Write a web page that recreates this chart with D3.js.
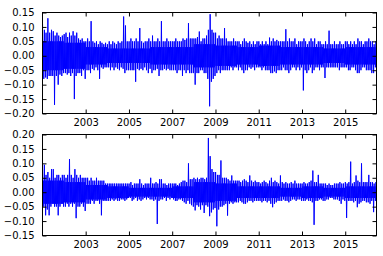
<!DOCTYPE html>
<html><head><meta charset="utf-8">
<script src="https://cdn.jsdelivr.net/npm/d3@7"></script>
<style>html,body{margin:0;padding:0;background:#fff;} svg{display:block;}</style>
</head><body><svg id="c" width="383" height="256"></svg>
<script>
// ---- data (monthly extreme daily returns, in percent, Jan 2001 .. Jun 2016) ----
const startYear = 2001;
const xTickYears = [2003, 2005, 2007, 2009, 2011, 2013, 2015];
const topTicks = [-0.20, -0.15, -0.10, -0.05, 0.00, 0.05, 0.10, 0.15];
const botTicks = [-0.15, -0.10, -0.05, 0.00, 0.05, 0.10, 0.15, 0.20];

const topHighPct = [
  11, 9, 8, 13, 8, 9, 8.5, 7, 8, 7, 6.5, 7,
  7.5, 8, 6.5, 8, 7, 8.5, 7, 8, 6, 5.5, 6, 5,
  5, 6, 5, 12, 5, 4.5, 5, 4, 5, 4.5, 4, 4.5,
  4, 5, 4, 5, 4.5, 4, 5, 4.5, 5, 13.6, 10.5, 5,
  5, 6, 5, 5, 6, 5, 9.6, 5, 4.5, 5, 5, 6,
  5, 7, 5, 5, 6, 5, 12, 5, 5, 6, 5, 5,
  5, 5, 6, 5, 5, 5, 6, 5.5, 6, 11.3, 6, 6,
  6, 6, 6.5, 8.4, 5, 6, 6, 7, 9, 14.4, 9, 8,
  8, 6, 7, 6, 6, 9.6, 6, 5, 5, 5, 6, 5,
  5, 5, 4, 5, 6, 5, 4.5, 5, 4, 5, 4, 5,
  5, 4, 5, 4, 5, 4, 6.3, 5, 6, 5, 5.5, 5,
  5, 5, 5, 9.2, 5, 6, 5, 5, 6, 4, 5, 5,
  5, 6, 5, 4, 5, 6, 5, 6, 4, 5, 5, 4,
  4, 5, 4, 8.7, 4, 4, 5, 4, 4, 5, 4, 4,
  5, 5, 4, 5, 4, 5, 4, 6, 5, 5, 4, 5,
  5, 6, 5, 5, 4, 5
];
const topLowPct = [
  -8, -7.5, -8, -7, -7, -7, -17, -7, -10, -6.5, -7, -6,
  -6, -6.5, -6, -7, -6, -15, -7, -6, -6, -7, -5, -8,
  -5, -5, -6, -4.5, -5, -4, -5, -8, -4, -4.5, -4, -4,
  -4, -5, -4, -5, -4, -4.5, -5, -4, -4.5, -6, -5, -5,
  -5, -5, -5, -9, -4.5, -5, -4.5, -5, -4, -5, -6, -4.5,
  -6, -5, -5, -4.5, -7, -5, -5, -4.5, -5, -4.5, -5, -5,
  -5, -5, -6, -5, -5, -7, -5, -6, -5, -6, -6, -6,
  -10, -6, -6, -5, -5, -6, -6, -8, -17.5, -9, -8, -7,
  -6, -5, -6, -5, -5, -5, -5, -5, -4, -5, -4, -4,
  -5, -4, -5, -6, -5, -5, -4, -4.5, -4, -5, -4, -4,
  -4, -5, -4, -5, -5, -5, -6, -6, -5.4, -6, -5, -5,
  -5, -4, -5, -5, -6, -5, -4, -4, -5, -4, -5, -4,
  -12, -5, -6, -5, -4, -6, -5, -4, -4, -5, -4, -4,
  -7.7, -4, -4, -4, -4, -4, -4, -4, -5, -4, -4, -4,
  -4, -5, -5, -4, -4, -5, -6, -6, -5, -4, -4, -5,
  -5, -5, -6, -6, -4, -4
];
// typical (dense core) half-width of the band, per year 2001..2016, in percent
const topCorePct = [5, 4.5, 3, 2.5, 2.5, 3, 3, 4, 3.5, 3, 3.5, 3, 3, 2.5, 3, 3];

const botHighPct = [
  10, 9.5, 6, 7, 5, 8, 8, 5, 6, 6, 5, 6,
  6, 5, 6, 11.5, 6, 5, 8, 6, 5, 6, 5, 5,
  5, 5, 4, 5, 4, 4, 5, 4, 4, 4, 4, 3,
  3, 3, 3, 3, 3, 3, 3, 3, 3, 3, 3, 3,
  3, 3.5, 2.5, 3, 3, 3, 4.5, 3, 2.5, 3, 3, 3,
  5, 3, 3, 3.5, 3, 4.5, 4.5, 3, 3, 2.5, 3, 3,
  3, 3, 3, 2.5, 3, 3.5, 4, 4, 3.5, 10, 4.5, 4.5,
  5, 4.5, 5, 4.5, 5, 5, 4.5, 5, 18.8, 12.5, 8, 7,
  7, 6, 6, 11, 5, 5, 5, 4.5, 4, 5.8, 4, 4,
  4, 4, 3.5, 4, 4.5, 4, 3.5, 5.8, 4, 3.5, 4, 3.5,
  3.5, 3, 3.5, 4, 3.5, 3, 4, 5, 3.5, 4, 3.5, 3,
  5.8, 3.5, 3, 3.5, 3, 3, 3.5, 3, 4, 3, 3, 3,
  3, 3.5, 3, 3, 3.5, 4, 7.5, 3.5, 3.5, 6, 3, 3,
  3, 3, 2.5, 3, 2.5, 2.5, 3, 3, 3, 3.5, 3, 3,
  3.5, 3, 3.5, 10.6, 3, 3.5, 5.8, 4, 3.5, 10, 3.5, 3.5,
  3.5, 6, 3.5, 3.5, 3, 3.5
];
const botLowPct = [
  -5, -8, -6, -8, -5, -4, -5, -5, -8, -5, -4, -5,
  -5, -4, -5, -4, -5, -4, -9, -5, -5, -4, -5, -6.5,
  -4, -4, -4, -3, -4, -3, -3, -4, -8, -3, -3, -3,
  -3, -3, -2.5, -3, -2.5, -3, -3, -2.5, -2.5, -3, -2.5, -2,
  -2, -3, -2.5, -2, -3, -2.5, -3, -2.5, -2, -2.5, -2, -2.5,
  -2.5, -3, -2.5, -11, -3, -2.5, -2.5, -2, -3, -2, -2.5, -2,
  -2.5, -3, -3, -2.5, -2.5, -3, -3.5, -4, -3, -4, -4.5, -5,
  -6.3, -4.5, -5, -6, -4.5, -7.2, -4.5, -5, -8.3, -7, -6, -5.5,
  -11.8, -6, -5, -5, -4.5, -4, -8.1, -4, -3.5, -4, -3.5, -3.5,
  -3.5, -3, -3.5, -4, -4, -3.5, -3, -3, -3.5, -3, -3, -3,
  -3, -3.5, -3, -3, -3.5, -3, -4, -5.2, -4, -3.5, -3, -3,
  -3, -2.5, -3, -3, -3.5, -3, -2.5, -2.5, -3, -2.5, -2.5, -3,
  -3, -3, -2.5, -3, -3, -3.5, -11.3, -3, -3, -2.5, -2.5, -3,
  -3, -2.5, -2.5, -2, -2, -2.5, -2.5, -2.5, -3, -4, -2.5, -3,
  -8.9, -3, -3, -3, -3.5, -3, -5.2, -4, -3.5, -3, -3, -3.5,
  -3.5, -4, -3, -6.9, -3, -3
];
const botCorePct = [4, 3.5, 2.5, 2, 1.5, 1.5, 2, 3.5, 3, 2, 2, 1.5, 2, 1.5, 2, 2];

// ---- drawing ----
const svg = d3.select("#c");
const X0 = 42.5, X1 = 376.5;
const x = d3.scaleTime()
  .domain([new Date(2001, 0, 2), new Date(2016, 5, 12)])
  .range([X0, X1]);

function series(highs, lows, core) {
  const pts = [];
  highs.forEach((h, i) => {
    const c = core[Math.floor(i / 12)];
    pts.push({ d: new Date(startYear, i, 3), v: h / 100 });
    pts.push({ d: new Date(startYear, i, 10), v: -c / 100 });
    pts.push({ d: new Date(startYear, i, 17), v: c / 100 });
    pts.push({ d: new Date(startYear, i, 24), v: lows[i] / 100 });
  });
  return pts;
}

const panels = [
  { y0: 12.5, y1: 113.5, dom: [-0.20, 0.15], ticks: topTicks, data: series(topHighPct, topLowPct, topCorePct) },
  { y0: 134.5, y1: 235.5, dom: [-0.15, 0.20], ticks: botTicks, data: series(botHighPct, botLowPct, botCorePct) }
];

const fmt = d3.format(".2f");
const xTicks = xTickYears.map(yr => new Date(yr, 0, 1));

panels.forEach((p, k) => {
  const y = d3.scaleLinear().domain(p.dom).range([p.y1, p.y0]);
  const g = svg.append("g");

  g.append("clipPath").attr("id", "clip" + k)
    .append("rect").attr("x", X0).attr("y", p.y0).attr("width", X1 - X0).attr("height", p.y1 - p.y0);

  const line = d3.line().x(d => x(d.d)).y(d => y(d.v));
  g.append("path").datum(p.data)
    .attr("clip-path", `url(#clip${k})`)
    .attr("d", line)
    .attr("fill", "none").attr("stroke", "#0000ff").attr("stroke-width", 1)
    .attr("stroke-linejoin", "round");

  const styleAxis = sel => {
    sel.select(".domain").remove();
    sel.selectAll(".tick line").attr("stroke", "#000").attr("stroke-width", 1);
    sel.selectAll("text").attr("fill", "#000")
      .style("font-family", "'DejaVu Sans', sans-serif").style("font-size", "10px");
  };

  g.append("g").attr("transform", `translate(${X0},0)`)
    .call(d3.axisLeft(y).tickValues(p.ticks).tickFormat(fmt).tickSize(-4).tickPadding(8))
    .call(styleAxis);
  g.append("g").attr("transform", `translate(${X1},0)`)
    .call(d3.axisRight(y).tickValues(p.ticks).tickFormat("").tickSize(-4))
    .call(styleAxis);
  g.append("g").attr("transform", `translate(0,${p.y1})`)
    .call(d3.axisBottom(x).tickValues(xTicks).tickFormat(d3.timeFormat("%Y")).tickSize(-4).tickPadding(5))
    .call(styleAxis);
  g.append("g").attr("transform", `translate(0,${p.y0})`)
    .call(d3.axisTop(x).tickValues(xTicks).tickFormat("").tickSize(-4))
    .call(styleAxis);

  g.append("rect").attr("x", X0).attr("y", p.y0).attr("width", X1 - X0).attr("height", p.y1 - p.y0)
    .attr("fill", "none").attr("stroke", "#000").attr("stroke-width", 1);
});
</script></body></html>
